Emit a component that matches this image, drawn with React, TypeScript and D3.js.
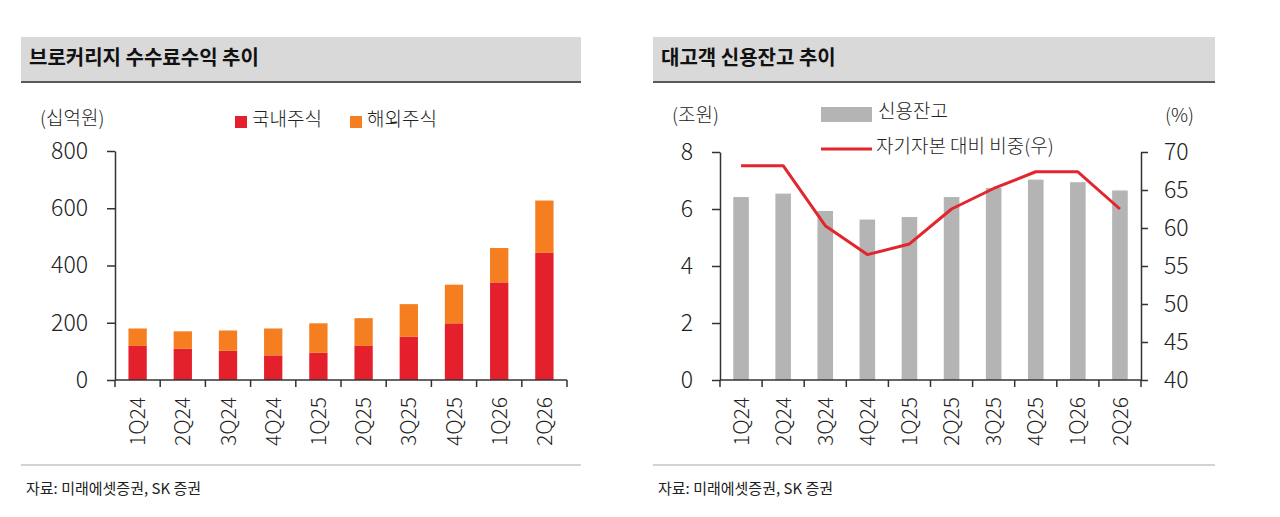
import * as d3 from "d3";
import React, { useEffect, useRef } from "react";

const QUARTERS = ["1Q24", "2Q24", "3Q24", "4Q24", "1Q25", "2Q25", "3Q25", "4Q25", "1Q26", "2Q26"];

// 브로커리지 수수료수익 (십억원)
const DOMESTIC = [119, 109, 102, 86, 95, 119, 151, 198, 341, 444];
const OVERSEAS = [61, 61, 71, 94, 103, 97, 114, 135, 120, 183];
const FEE_TICKS = [0, 200, 400, 600, 800];

// 대고객 신용잔고 (조원) / 자기자본 대비 비중 (%)
const CREDIT_BALANCE = [6.42, 6.54, 5.93, 5.63, 5.72, 6.42, 6.74, 7.03, 6.94, 6.65];
const EQUITY_RATIO = [68.2, 68.2, 60.3, 56.5, 57.9, 62.5, 65.2, 67.4, 67.4, 62.5];
const BAL_TICKS = [0, 2, 4, 6, 8];
const RATIO_TICKS = [40, 45, 50, 55, 60, 65, 70];

const RED = "#e4202c";
const ORANGE = "#f47e20";
const GRAY = "#b4b4b4";
const LINE_RED = "#e1262d";
const INK = "#222";
const FONT = "'Noto Sans CJK KR', 'Noto Sans', sans-serif";

const App: React.FC = () => {
  const svgRef = useRef<SVGSVGElement>(null);

  useEffect(() => {
    if (!svgRef.current) return;
    const svg = d3.select(svgRef.current);
    svg.selectAll("*").remove();
    svg.style("font-family", FONT);

    // panel frame: title bar + footer
    const panel = (x0: number, x1: number, title: string) => {
      svg.append("rect").attr("x", x0).attr("y", 37).attr("width", x1 - x0).attr("height", 45).attr("fill", "#d9d9d9");
      svg.append("line").attr("x1", x0).attr("x2", x1).attr("y1", 82).attr("y2", 82).attr("stroke", "#5a5a5a").attr("stroke-width", 2);
      svg.append("text").attr("x", x0 + 8).attr("y", 60).attr("dominant-baseline", "middle")
        .attr("fill", "#111").style("font-size", "20px").style("font-weight", "700").text(title);
      svg.append("line").attr("x1", x0).attr("x2", x1).attr("y1", 465).attr("y2", 465).attr("stroke", "#c4c4c4").attr("stroke-width", 1.5);
      svg.append("text").attr("x", x0 + 5).attr("y", 490).attr("dominant-baseline", "middle")
        .attr("fill", INK).style("font-size", "15px").text("자료: 미래에셋증권, SK 증권");
    };

    const label = (x: number, y: number, t: string, size = 19, anchor = "start") =>
      svg.append("text").attr("x", x).attr("y", y).attr("dominant-baseline", "middle").attr("text-anchor", anchor)
        .attr("fill", INK).style("font-size", `${size}px`).style("font-weight", "300").text(t);

    const xAxis = (x: d3.ScaleBand<string>, y0: number) => {
      const g = svg.append("g");
      const [r0, r1] = x.range();
      g.append("line").attr("x1", r0).attr("x2", r1).attr("y1", y0).attr("y2", y0).attr("stroke", "#333").attr("stroke-width", 1.5);
      const edges = [...QUARTERS.map((q) => x(q)!), r1];
      g.selectAll(".tk").data(edges).join("line").attr("class", "tk")
        .attr("x1", (d) => d).attr("x2", (d) => d).attr("y1", y0).attr("y2", y0 + 7)
        .attr("stroke", "#333").attr("stroke-width", 1.5);
      g.selectAll(".xl").data(QUARTERS).join("text").attr("class", "xl")
        .attr("transform", (d) => `translate(${x(d)! + x.bandwidth() / 2},${y0 + 17}) rotate(-90)`)
        .attr("text-anchor", "end").attr("dy", "0.36em").attr("fill", INK)
        .style("font-size", "21px").style("font-weight", "300").text((d) => d);
    };

    const styleAxis = (g: d3.Selection<SVGGElement, unknown, null, undefined>) => {
      g.select(".domain").attr("stroke", "#333").attr("stroke-width", 1.5);
      g.selectAll(".tick line").attr("stroke", "#333").attr("stroke-width", 1.5);
      g.selectAll(".tick text").attr("fill", INK).style("font-size", "23px").style("font-weight", "300").style("font-family", FONT);
    };

    // ---------- Left: 브로커리지 수수료수익 추이 ----------
    panel(21, 581, "브로커리지 수수료수익 추이");
    const xL = d3.scaleBand().domain(QUARTERS).range([115, 567]).padding(0);
    const yL = d3.scaleLinear().domain([0, 800]).range([380, 151]);
    const bwL = xL.bandwidth() * 0.405;

    const stackData = QUARTERS.map((q, i) => ({ q, dom: DOMESTIC[i], ovs: OVERSEAS[i] }));
    const series = d3.stack<{ q: string; dom: number; ovs: number }>().keys(["dom", "ovs"])(stackData);
    const colors = [RED, ORANGE];
    svg.append("g").selectAll("g").data(series).join("g").attr("fill", (_, i) => colors[i])
      .selectAll("rect").data((s) => s).join("rect")
      .attr("x", (d) => xL(d.data.q)! + (xL.bandwidth() - bwL) / 2)
      .attr("y", (d) => yL(d[1]))
      .attr("width", bwL)
      .attr("height", (d) => yL(d[0]) - yL(d[1]));

    const gL = svg.append("g").attr("transform", "translate(115,0)")
      .call(d3.axisLeft(yL).tickValues(FEE_TICKS).tickSize(8).tickSizeOuter(0).tickPadding(19));
    styleAxis(gL);
    xAxis(xL, 380);

    label(40, 120, "(십억원)");
    svg.append("rect").attr("x", 235).attr("y", 116).attr("width", 12).attr("height", 12).attr("fill", RED);
    label(252, 121, "국내주식", 19);
    svg.append("rect").attr("x", 350).attr("y", 116).attr("width", 12).attr("height", 12).attr("fill", ORANGE);
    label(367, 121, "해외주식", 19);

    // ---------- Right: 대고객 신용잔고 추이 ----------
    panel(653, 1215, "대고객 신용잔고 추이");
    const xR = d3.scaleBand().domain(QUARTERS).range([720, 1141]).padding(0);
    const yB = d3.scaleLinear().domain([0, 8]).range([380, 152]);
    const yP = d3.scaleLinear().domain([40, 70]).range([380, 152]);
    const bwR = xR.bandwidth() * 0.37;

    svg.append("g").selectAll("rect").data(CREDIT_BALANCE).join("rect")
      .attr("x", (_, i) => xR(QUARTERS[i])! + (xR.bandwidth() - bwR) / 2)
      .attr("y", (d) => yB(d))
      .attr("width", bwR)
      .attr("height", (d) => yB(0) - yB(d))
      .attr("fill", GRAY);

    const line = d3.line<number>()
      .x((_, i) => xR(QUARTERS[i])! + xR.bandwidth() / 2)
      .y((d) => yP(d));
    svg.append("path").datum(EQUITY_RATIO).attr("d", line).attr("fill", "none")
      .attr("stroke", LINE_RED).attr("stroke-width", 3).attr("stroke-linejoin", "round");

    const gRL = svg.append("g").attr("transform", "translate(720,0)")
      .call(d3.axisLeft(yB).tickValues(BAL_TICKS).tickSize(8).tickSizeOuter(0).tickPadding(19));
    styleAxis(gRL);
    const gRR = svg.append("g").attr("transform", "translate(1141,0)")
      .call(d3.axisRight(yP).tickValues(RATIO_TICKS).tickSize(7).tickSizeOuter(0).tickPadding(16));
    styleAxis(gRR);
    xAxis(xR, 380);

    label(672, 117, "(조원)");
    label(1165, 117, "(%)");
    svg.append("rect").attr("x", 821).attr("y", 107).attr("width", 51).attr("height", 15).attr("fill", GRAY);
    label(878, 113, "신용잔고", 19);
    svg.append("line").attr("x1", 821).attr("x2", 872).attr("y1", 149).attr("y2", 149)
      .attr("stroke", LINE_RED).attr("stroke-width", 3);
    label(876, 148, "자기자본 대비 비중(우)", 19);
  }, []);

  return (
    <svg
      ref={svgRef}
      width={1280}
      height={517}
      style={{ position: "absolute", left: 0, top: 0, background: "#fff" }}
    />
  );
};

export default App;
